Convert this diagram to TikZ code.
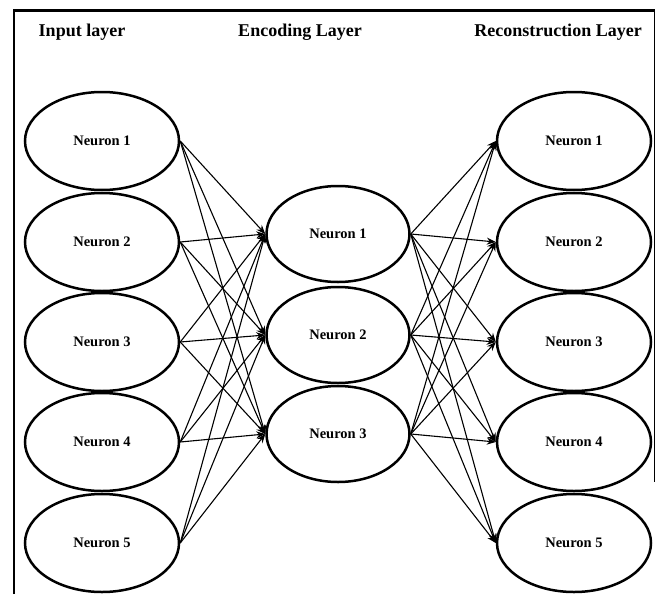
\documentclass[tikz,border=0pt]{standalone}
\usepackage{fontspec}
\setmainfont{Liberation Serif}
\usetikzlibrary{shapes.geometric,arrows.meta}
\begin{document}
\begin{tikzpicture}[x=1pt,y=-1pt,
  neuron/.style={ellipse,draw,line width=2.5pt,inner sep=0pt,font=\fontsize{14.5}{16}\selectfont\bfseries},
  sideneuron/.style={neuron,minimum width=154pt,minimum height=98pt},
  midneuron/.style={neuron,minimum width=143pt,minimum height=96pt},
  title/.style={font=\fontsize{18}{20}\selectfont\bfseries,inner sep=0pt},
  conn/.style={line width=1.1pt,-{Stealth[length=9pt,width=7pt]}},
  frame/.style={line width=2.8pt}
]
\useasboundingbox (0,0) rectangle (660,594);
% frame
\draw[frame] (14,594) -- (14,10.5) -- (654.5,10.5);
\draw[line width=1.6pt] (654.5,10.5) -- (654.5,482);

% titles
\node[title] (tin) at (82,32) {Input layer};
\node[title] (tenc) at (300,32) {Encoding Layer};
\node[title] (trec) at (558,32) {Reconstruction Layer};

% input layer
\node[sideneuron] (L1) at (102,141) {Neuron 1};
\node[sideneuron] (L2) at (102,242) {Neuron 2};
\node[sideneuron] (L3) at (102,342) {Neuron 3};
\node[sideneuron] (L4) at (102,442) {Neuron 4};
\node[sideneuron] (L5) at (102,543) {Neuron 5};

% encoding layer
\node[midneuron] (M1) at (338,234) {Neuron 1};
\node[midneuron] (M2) at (338,335) {Neuron 2};
\node[midneuron] (M3) at (338,434) {Neuron 3};

% reconstruction layer
\node[sideneuron] (R1) at (574,141) {Neuron 1};
\node[sideneuron] (R2) at (574,242) {Neuron 2};
\node[sideneuron] (R3) at (574,342) {Neuron 3};
\node[sideneuron] (R4) at (574,442) {Neuron 4};
\node[sideneuron] (R5) at (574,543) {Neuron 5};

% connectors
\foreach \i in {1,...,5}{
  \foreach \j in {1,2,3}{
    \draw[conn] (L\i.east) -- (M\j.west);
    \draw[conn] (M\j.east) -- (R\i.west);
  }
}
\end{tikzpicture}
\end{document}
